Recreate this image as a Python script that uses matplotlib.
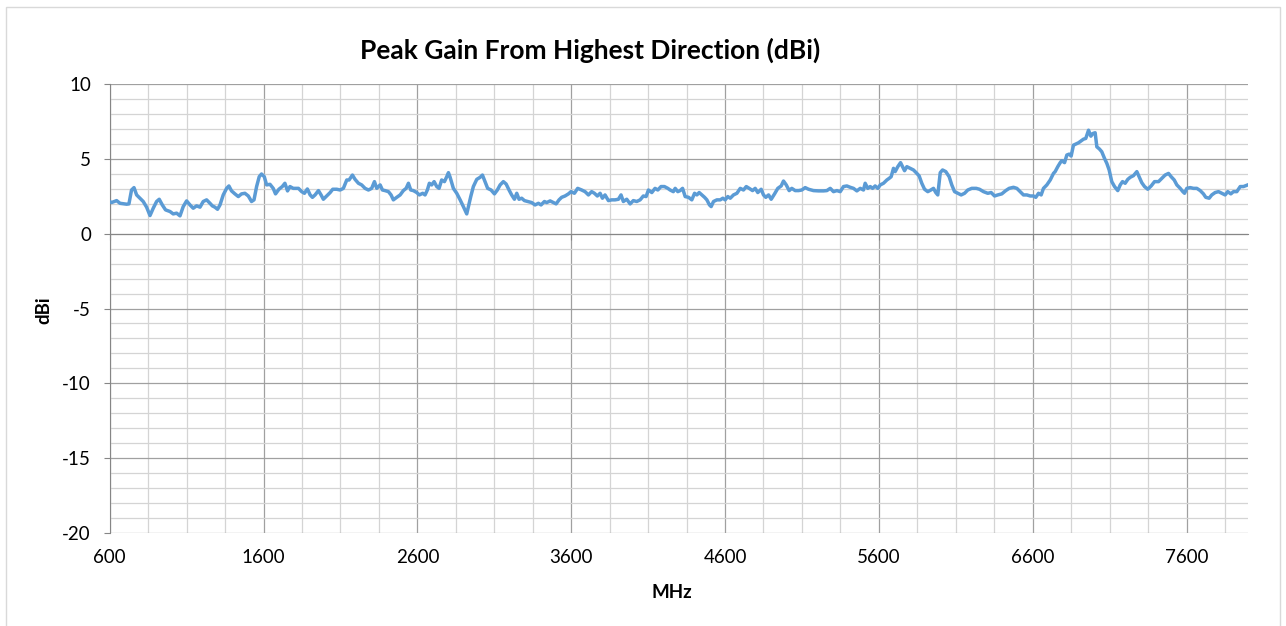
import matplotlib
matplotlib.use("Agg")
import matplotlib.pyplot as plt
from matplotlib.patches import Rectangle

plt.rcParams['font.family'] = ['Lato', 'DejaVu Sans']
plt.rcParams['axes.unicode_minus'] = False

# peak gain (MHz, dBi)
freq_mhz = [600, 612, 645, 667, 710, 725, 742, 758, 775, 797, 818, 840, 862, 883, 905, 922, 942, 963, 992, 1013,
            1035, 1057, 1078, 1100, 1122, 1143, 1165, 1187, 1208, 1230, 1252, 1267, 1284, 1301, 1317, 1338, 1360, 1375, 1392, 1414,
            1436, 1457, 1479, 1501, 1522, 1538, 1555, 1572, 1587, 1605, 1620, 1642, 1663, 1678, 1700, 1722, 1739, 1756, 1772, 1793,
            1827, 1848, 1866, 1885, 1903, 1918, 1935, 1957, 1974, 1989, 2011, 2033, 2050, 2076, 2098, 2119, 2141, 2156, 2178, 2195,
            2217, 2238, 2260, 2282, 2303, 2321, 2336, 2358, 2373, 2390, 2412, 2429, 2444, 2466, 2488, 2509, 2527, 2542, 2557, 2574,
            2596, 2613, 2635, 2650, 2665, 2678, 2693, 2709, 2726, 2741, 2758, 2776, 2791, 2802, 2813, 2834, 2856, 2878, 2899, 2921,
            2932, 2947, 2964, 2986, 3008, 3023, 3040, 3057, 3079, 3101, 3120, 3138, 3159, 3177, 3196, 3213, 3231, 3246, 3261, 3278,
            3296, 3317, 3343, 3365, 3387, 3404, 3426, 3441, 3463, 3484, 3502, 3521, 3538, 3560, 3582, 3599, 3621, 3642, 3668, 3690,
            3712, 3733, 3751, 3770, 3788, 3803, 3820, 3842, 3863, 3885, 3907, 3924, 3939, 3961, 3983, 4004, 4026, 4048, 4069, 4087,
            4102, 4124, 4145, 4163, 4184, 4206, 4228, 4243, 4264, 4276, 4293, 4308, 4324, 4341, 4363, 4384, 4402, 4417, 4432, 4449,
            4467, 4482, 4499, 4510, 4525, 4547, 4569, 4586, 4601, 4618, 4634, 4655, 4677, 4699, 4720, 4738, 4757, 4779, 4796, 4813,
            4835, 4850, 4865, 4883, 4900, 4922, 4943, 4965, 4980, 4998, 5017, 5034, 5056, 5078, 5099, 5121, 5143, 5175, 5208, 5240,
            5262, 5284, 5305, 5327, 5349, 5370, 5392, 5414, 5435, 5457, 5479, 5500, 5511, 5528, 5544, 5559, 5576, 5593, 5609, 5630,
            5652, 5667, 5680, 5695, 5706, 5723, 5741, 5754, 5767, 5782, 5804, 5825, 5847, 5862, 5879, 5897, 5918, 5938, 5955, 5970,
            5983, 5999, 6014, 6035, 6057, 6074, 6092, 6113, 6135, 6157, 6178, 6204, 6233, 6254, 6280, 6308, 6330, 6352, 6373, 6399,
            6425, 6447, 6475, 6497, 6519, 6540, 6562, 6584, 6605, 6620, 6638, 6655, 6670, 6692, 6714, 6735, 6746, 6763, 6779, 6789,
            6807, 6822, 6837, 6850, 6865, 6880, 6898, 6915, 6930, 6945, 6963, 6978, 6991, 7006, 7017, 7034, 7049, 7067, 7082, 7097,
            7114, 7132, 7153, 7169, 7184, 7201, 7218, 7234, 7255, 7277, 7292, 7309, 7327, 7348, 7370, 7392, 7418, 7439, 7461, 7483,
            7500, 7520, 7537, 7559, 7576, 7587, 7602, 7624, 7645, 7667, 7689, 7710, 7725, 7747, 7764, 7786, 7808, 7829, 7851, 7868,
            7888, 7905, 7927, 7949, 7970, 7998]
gain_dbi = [2.16, 2.09, 2.22, 2.04, 1.98, 2.0, 2.93, 3.09, 2.6, 2.38, 2.16, 1.78, 1.22, 1.71, 2.16, 2.31, 1.93, 1.6, 1.49, 1.33,
            1.38, 1.2, 1.82, 2.2, 1.93, 1.71, 1.87, 1.78, 2.16, 2.27, 2.04, 1.87, 1.78, 1.64, 1.93, 2.6, 3.04, 3.2, 2.87, 2.67,
            2.49, 2.67, 2.71, 2.53, 2.16, 2.27, 3.16, 3.82, 4.0, 3.82, 3.27, 3.31, 3.04, 2.67, 2.98, 3.16, 3.38, 2.87, 3.16, 3.04,
            3.04, 2.82, 2.71, 3.0, 2.6, 2.44, 2.6, 2.89, 2.6, 2.31, 2.53, 2.76, 2.98, 2.98, 2.93, 3.04, 3.6, 3.6, 3.93, 3.64,
            3.38, 3.27, 3.04, 2.93, 3.04, 3.49, 3.04, 3.27, 2.93, 2.89, 2.82, 2.6, 2.27, 2.44, 2.6, 2.89, 3.04, 3.38, 2.93, 2.89,
            2.76, 2.6, 2.71, 2.6, 2.93, 3.38, 3.27, 3.49, 3.16, 3.04, 3.6, 3.49, 3.82, 4.09, 3.78, 3.04, 2.71, 2.27, 1.82, 1.33,
            1.82, 2.49, 3.16, 3.64, 3.78, 3.93, 3.49, 3.04, 2.93, 2.67, 2.93, 3.27, 3.49, 3.33, 2.93, 2.6, 2.31, 2.71, 2.31, 2.38,
            2.22, 2.16, 2.09, 1.93, 2.04, 1.93, 2.16, 2.09, 2.2, 2.09, 2.0, 2.27, 2.44, 2.53, 2.67, 2.82, 2.71, 3.04, 2.93, 2.82,
            2.6, 2.82, 2.71, 2.53, 2.71, 2.38, 2.6, 2.22, 2.27, 2.27, 2.31, 2.6, 2.16, 2.31, 2.0, 2.22, 2.16, 2.27, 2.53, 2.49,
            2.93, 2.76, 3.04, 2.93, 3.16, 3.16, 3.04, 2.93, 2.82, 3.04, 2.82, 2.89, 3.04, 2.49, 2.44, 2.27, 2.71, 2.6, 2.76, 2.6,
            2.44, 2.27, 1.93, 1.82, 2.16, 2.27, 2.27, 2.38, 2.27, 2.49, 2.38, 2.6, 2.71, 3.04, 2.93, 3.16, 3.04, 2.89, 3.04, 2.76,
            2.98, 2.6, 2.44, 2.6, 2.31, 2.67, 3.04, 3.2, 3.53, 3.27, 2.89, 3.04, 2.89, 2.89, 2.93, 3.09, 2.98, 2.89, 2.87, 2.87,
            2.89, 3.04, 2.82, 2.89, 2.82, 3.16, 3.2, 3.11, 3.04, 2.87, 3.04, 2.93, 3.38, 3.04, 3.16, 3.04, 3.2, 3.04, 3.27, 3.38,
            3.6, 3.71, 3.82, 4.38, 4.16, 4.49, 4.76, 4.49, 4.22, 4.49, 4.38, 4.27, 4.04, 3.87, 3.38, 2.98, 2.82, 2.93, 3.04, 2.76,
            2.6, 4.09, 4.27, 4.16, 3.82, 3.27, 2.82, 2.71, 2.6, 2.71, 2.93, 3.04, 3.04, 2.98, 2.82, 2.71, 2.76, 2.53, 2.6, 2.67,
            2.89, 3.04, 3.11, 3.04, 2.82, 2.6, 2.6, 2.53, 2.53, 2.44, 2.71, 2.6, 3.04, 3.27, 3.6, 4.04, 4.16, 4.49, 4.76, 4.89,
            4.76, 5.27, 5.33, 5.2, 5.93, 6.0, 6.09, 6.22, 6.33, 6.38, 6.93, 6.53, 6.71, 6.76, 5.82, 5.67, 5.49, 5.04, 4.71, 4.27,
            3.49, 3.16, 2.89, 3.27, 3.49, 3.38, 3.64, 3.78, 3.89, 4.16, 3.82, 3.42, 3.16, 2.98, 3.2, 3.49, 3.49, 3.71, 3.93, 4.04,
            3.82, 3.6, 3.27, 3.04, 2.82, 2.71, 3.04, 3.09, 3.04, 3.04, 2.89, 2.67, 2.44, 2.38, 2.6, 2.76, 2.82, 2.71, 2.6, 2.82,
            2.67, 2.82, 2.82, 3.16, 3.16, 3.27]

x_major = [600, 1600, 2600, 3600, 4600, 5600, 6600, 7600]
x_minor = list(range(600, 8000, 250))
y_major = [-20, -15, -10, -5, 0, 5, 10]
y_minor = list(range(-20, 11))

fig = plt.figure(figsize=(12.86, 6.26), dpi=100)
ax = fig.add_axes([0.0853, 0.149, 0.8852, 0.7163])

# chart area border
fig.patches.append(Rectangle((6 / 1286, -0.05), 1274 / 1286, 1.05 - 7 / 626, transform=fig.transFigure,
                             fill=False, edgecolor='#d9d9d9', linewidth=1.0))

ax.plot(freq_mhz, gain_dbi, color='#5b9bd5', linewidth=2.5, solid_joinstyle='round', zorder=3)

ax.set_xlim(600, 8000)
ax.set_ylim(-20, 10)
ax.set_xticks(x_major)
ax.set_xticks(x_minor, minor=True)
ax.set_yticks(y_major)
ax.set_yticks(y_minor, minor=True)
ax.grid(which='minor', color='#d4d4d4', linewidth=0.9)
ax.grid(which='major', color='#a0a0a0', linewidth=0.9)
ax.set_axisbelow(True)

for s in ['top', 'right']:
    ax.spines[s].set_visible(False)
ax.spines['left'].set_color('#868686')
ax.spines['bottom'].set_position(('data', 0))
ax.spines['bottom'].set_color('#868686')

ax.tick_params(axis='x', which='major', direction='out', length=4.5, color='#868686', labelbottom=False)
ax.tick_params(axis='y', which='major', direction='out', length=4.5, color='#868686', pad=9, labelsize=13.5)
ax.tick_params(which='minor', length=0)

# labels stay at the bottom of the plot area
secax = ax.secondary_xaxis('bottom')
secax.set_xticks(x_major)
secax.spines['bottom'].set_visible(False)
secax.tick_params(length=0, pad=12, labelsize=13.5)

fig.text(590 / 1286, 1 - 50 / 626, 'Peak Gain From Highest Direction (dBi)', ha='center', va='center',
         fontsize=19, fontweight='bold')
fig.text(672 / 1286, 1 - 592 / 626, 'MHz', ha='center', va='center', fontsize=13.5, fontweight='bold')
fig.text(44 / 1286, 1 - 310 / 626, 'dBi', ha='center', va='center', rotation=90, fontsize=13.5, fontweight='bold')

fig.savefig('out.png', dpi=100)
